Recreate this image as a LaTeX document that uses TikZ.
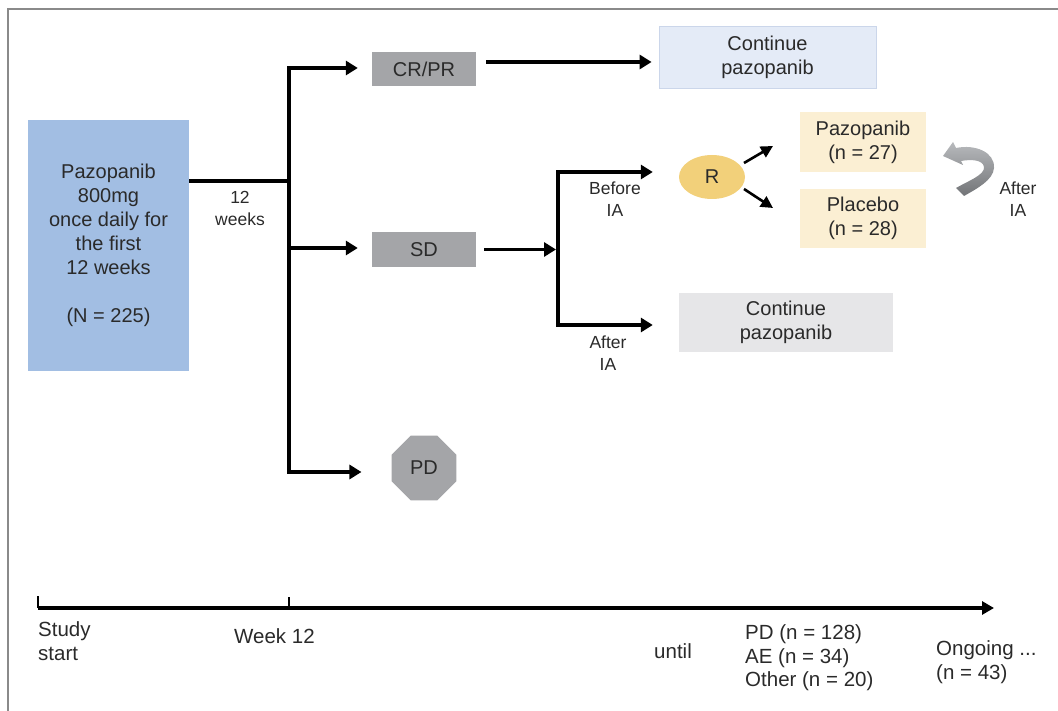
\documentclass[tikz,border=0pt]{standalone}
\usepackage{fontspec}
\setmainfont{Liberation Sans}
\usetikzlibrary{arrows.meta,shapes.geometric,calc}

\definecolor{framegray}{HTML}{8A8A8A}
\definecolor{txt}{HTML}{2A2A2A}
\definecolor{startblue}{HTML}{A2BEE3}
\definecolor{stepgray}{HTML}{A4A5A8}
\definecolor{contblue}{HTML}{E4EBF7}
\definecolor{contblueedge}{HTML}{CBD6EA}
\definecolor{armyellow}{HTML}{FBEFD3}
\definecolor{randyellow}{HTML}{F2D07A}
\definecolor{contgray}{HTML}{E6E6E8}
\definecolor{bendlight}{HTML}{B8BABD}
\definecolor{benddark}{HTML}{727477}

\tikzset{
  boxtext/.style={font=\fontsize{20}{24}\selectfont, text=txt, align=center, inner sep=0pt},
  flowbox/.style={boxtext, rectangle, minimum width=#1},
  labeltext/.style={font=\fontsize{17.5}{22}\selectfont, text=txt, align=center, inner sep=0pt},
  axistext/.style={font=\fontsize{20.5}{23.5}\selectfont, text=txt, align=left, inner sep=0pt},
  conn/.style={line width=3.3pt, draw=black},
  arr/.style={conn, -{Triangle[length=12pt,width=14pt]}},
  arrthin/.style={line width=2.6pt, draw=black, -{Triangle[length=12pt,width=12pt]}},
}

\begin{document}
\begin{tikzpicture}[x=1pt,y=-1pt]
\useasboundingbox (0,0) rectangle (1058,711);

% outer frame, running off the page on the right and bottom
\begin{scope}
  \clip (0,0) rectangle (1058,711);
  \draw[framegray, line width=2pt] (8,9) rectangle (1090,740);
\end{scope}

% boxes
\node[flowbox=161pt, minimum height=251pt, fill=startblue] (start) at (108.5,245.5)
  {Pazopanib\\800mg\\once daily for\\the first\\12 weeks\\[24pt](N = 225)};
\node[flowbox=104pt, minimum height=34pt, fill=stepgray] (crpr) at (424,69) {CR/PR};
\node[flowbox=104pt, minimum height=35pt, fill=stepgray] (sd) at (424,249.5) {SD};
\node[boxtext, regular polygon, regular polygon sides=8, minimum size=70pt, fill=stepgray] (pd) at (424,468) {PD};
\node[flowbox=217pt, minimum height=62pt, fill=contblue, draw=contblueedge, line width=0.8pt] (cont1) at (767.5,57)
  {Continue\\pazopanib};
\node[boxtext, ellipse, minimum width=66pt, minimum height=44pt, fill=randyellow] (rand) at (712,177) {R};
\node[flowbox=126pt, minimum height=60pt, fill=armyellow] (armpaz) at (863,142) {Pazopanib\\(n = 27)};
\node[flowbox=126pt, minimum height=59pt, fill=armyellow] (armpla) at (863,218.5) {Placebo\\(n = 28)};
\node[flowbox=214pt, minimum height=59pt, fill=contgray] (cont2) at (786,322.5) {Continue\\pazopanib};

% first split after 12 weeks
\coordinate (split) at (289,181);
\coordinate (vtop) at (289,68);
\coordinate (vmid) at (289,248);
\coordinate (vbot) at (289,472);
\draw[conn] (start.east |- split) -- (split);
\draw[arr, line cap=rect] (vtop) -- ($(crpr.west |- vtop)+(-14,0)$);
\draw[arr] (vtop) -- (vbot) -- ($(pd.west |- vbot)+(-30,0)$);
\draw[arr] (vmid) -- ($(sd.west |- vmid)+(-14,0)$);
\node[labeltext] (wk) at (240,208) {12\\weeks};

% responders continue
\coordinate (crout) at ($(crpr.east)+(10,-7)$);
\draw[arr] (crout) -- ($(cont1.west |- crout)+(-7,0)$);

% stable disease: before / after interim analysis
\coordinate (sdout) at ($(sd.east)+(8,0)$);
\coordinate (btop) at (558,172);
\coordinate (bbot) at (558,325);
\draw[arr] (sdout) -- ($(btop |- sdout)+(-2,0)$);
\draw[arr, line cap=rect] (btop) -- ($(rand.west |- btop)+(-26,0)$);
\draw[arr] (btop) -- (bbot) -- ($(cont2.west |- bbot)+(-26,0)$);
\node[labeltext] (before) at (615,199) {Before\\IA};
\node[labeltext] (after) at (608,353) {After\\IA};

% randomisation
\draw[arrthin] ($(rand)+(32,-14)$) -- ($(rand)+(61,-31)$);
\draw[arrthin] ($(rand)+(32,12)$) -- ($(rand)+(61,31)$);

% crossover bend arrow
\shade[top color=bendlight, bottom color=benddark]
  (943,156) -- (953,142) -- (956,148)
  .. controls (975,144) and (995,152) .. (994,168)
  .. controls (993,180) and (978,188) .. (964,196)
  -- (956,188)
  .. controls (968,181) and (985,175) .. (984,167)
  .. controls (983,160) and (972,159) .. (961,161)
  -- (963,165) -- cycle;
\node[labeltext] (crossIA) at (1018,199) {After\\IA};

% time axis
\coordinate (t0) at (38,608);
\coordinate (t12) at (289,608);
\coordinate (tend) at (994,608);
\draw[line width=3.2pt, -{Triangle[length=12pt,width=13pt]}] (t0) -- (tend);
\draw[line width=1.2pt] (t0) -- ++(0,-12);
\draw[line width=1.2pt] (t12) -- ++(0,-11);
\node[axistext, anchor=west] (study) at (38,641) {Study\\start};
\node[axistext, anchor=west] (week) at (234,636) {Week 12};
\node[axistext, anchor=west] (until) at (654,651) {until};
\node[axistext, anchor=west] (reasons) at (745,658) {PD (n = 128)\\AE (n = 34)\\Other (n = 20)};
\node[axistext, anchor=west] (ongoing) at (936,662) {Ongoing ...\\(n = 43)};
\end{tikzpicture}
\end{document}
